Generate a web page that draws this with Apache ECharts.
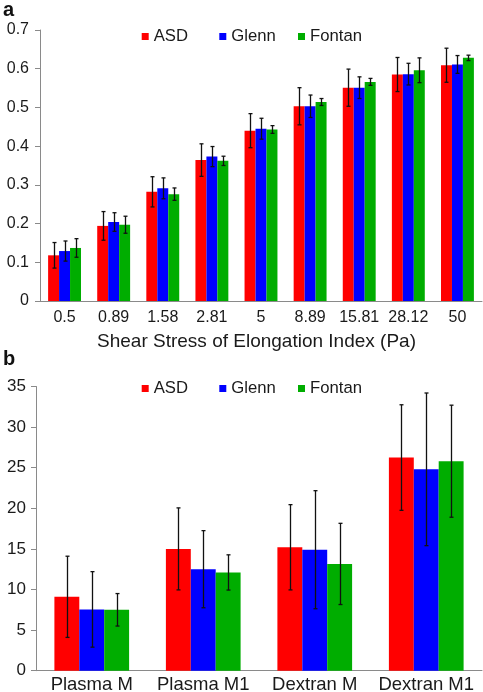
<!DOCTYPE html>
<html>
<head>
<meta charset="utf-8">
<script src="https://cdn.jsdelivr.net/npm/echarts@6/dist/echarts.min.js"></script>
<style>html,body{margin:0;padding:0;background:#fff}#c{width:483px;height:692px}</style>
</head>
<body>
<div id="c"></div>
<script>
// Panel a data
const categoriesA = ['0.5','0.89','1.58','2.81','5','8.89','15.81','28.12','50'];
const asdA    = [0.118,0.194,0.282,0.364,0.440,0.503,0.551,0.585,0.609];
const glennA  = [0.129,0.204,0.291,0.373,0.445,0.503,0.551,0.586,0.611];
const fontanA = [0.137,0.197,0.276,0.362,0.443,0.514,0.566,0.596,0.628];
const asdErrA    = [0.033,0.037,0.039,0.042,0.044,0.048,0.048,0.044,0.044];
const glennErrA  = [0.026,0.024,0.027,0.026,0.027,0.029,0.028,0.028,0.023];
const fontanErrA = [0.024,0.022,0.016,0.012,0.010,0.009,0.009,0.032,0.007];
// Panel b data
const categoriesB = ['Plasma M','Plasma M1','Dextran M','Dextran M1'];
const asdB    = [9.1,15.0,15.2,26.25];
const glennB  = [7.55,12.5,14.9,24.8];
const fontanB = [7.5,12.1,13.15,25.8];
const asdErrB    = [5.0,5.05,5.25,6.5];
const glennErrB  = [4.65,4.75,7.27,9.4];
const fontanErrB = [2.0,2.17,5.0,6.9];

const seriesNames = ['ASD','Glenn','Fontan'];
const colors = ['#FF0000','#0000FF','#00AD00'];
const FONT = 'Liberation Sans, Arial, sans-serif';
const axisColor = '#8a8a8a';
const textColor = '#1a1a1a';

function errSeries(vals, errs, idx, axisIdx) {
  return {
    type: 'custom',
    xAxisIndex: axisIdx, yAxisIndex: axisIdx,
    z: 10, silent: true,
    data: vals.map((v, i) => [i, v, errs[i]]),
    renderItem: function (params, api) {
      const i = api.value(0), v = api.value(1), e = api.value(2);
      const c = api.coord([i, v]);
      const band = api.size([1, 0])[0];
      const bw = band * 0.67 / 3;
      const x = Math.round(c[0] + (idx - 1) * bw) + 0.5;
      const top = api.coord([i, v + e])[1];
      const bot = api.coord([i, v - e])[1];
      const st = { stroke: '#111', lineWidth: 1.3 };
      return { type: 'group', children: [
        { type: 'line', shape: { x1: x, y1: top, x2: x, y2: bot }, style: st },
        { type: 'line', shape: { x1: x - 2, y1: top, x2: x + 2, y2: top }, style: st },
        { type: 'line', shape: { x1: x - 2, y1: bot, x2: x + 2, y2: bot }, style: st }
      ]};
    }
  };
}

function barSeries(vals, idx, axisIdx) {
  return {
    type: 'bar', name: seriesNames[idx],
    xAxisIndex: axisIdx, yAxisIndex: axisIdx,
    data: vals, barGap: '0%', barCategoryGap: '33%',
    itemStyle: { color: colors[idx] }
  };
}

const legendLefts = [136.7, 214.3, 293];
function legends(top) {
  return seriesNames.map((n, k) => ({
    data: [n], icon: 'rect', itemWidth: 7, itemHeight: 7,
    left: legendLefts[k], top: top, selectedMode: false,
    textStyle: { fontFamily: FONT, fontSize: 16.7, color: textColor }
  }));
}

const chart = echarts.init(document.getElementById('c'), null, { renderer: 'canvas' });
chart.setOption({
  animation: false,
  backgroundColor: '#fff',
  textStyle: { fontFamily: FONT },
  graphic: [
    { type: 'text', left: 3, top: 0, style: { text: 'a', font: 'bold 20px ' + FONT, fill: '#111' } },
    { type: 'text', left: 3, top: 349, style: { text: 'b', font: 'bold 20px ' + FONT, fill: '#111' } }
  ],
  legend: legends(23).concat(legends(375)),
  grid: [
    { left: 40, top: 30, width: 442, height: 271, outerBoundsMode: 'none', containLabel: false },
    { left: 36, top: 386.5, width: 446, height: 284.2, outerBoundsMode: 'none', containLabel: false }
  ],
  xAxis: [
    { type: 'category', gridIndex: 0, data: categoriesA,
      name: 'Shear Stress of Elongation Index (Pa)', nameLocation: 'middle', nameGap: 31,
      nameTextStyle: { fontFamily: FONT, fontSize: 19, color: textColor, padding: [0, 9, 0, 0] },
      axisLine: { lineStyle: { color: axisColor, width: 1 } },
      axisTick: { length: 5, lineStyle: { color: axisColor } },
      axisLabel: { fontFamily: FONT, fontSize: 16, color: textColor, margin: 9, interval: 0 } },
    { type: 'category', gridIndex: 1, data: categoriesB,
      axisLine: { lineStyle: { color: axisColor, width: 1 } },
      axisTick: { length: 5, lineStyle: { color: axisColor } },
      axisLabel: { fontFamily: FONT, fontSize: 18.5, color: textColor, margin: 5, interval: 0 } }
  ],
  yAxis: [
    { type: 'value', gridIndex: 0, min: 0, max: 0.7, interval: 0.1,
      splitLine: { show: false },
      axisLine: { show: true, lineStyle: { color: axisColor, width: 1 } },
      axisTick: { show: true, length: 5, lineStyle: { color: axisColor } },
      axisLabel: { fontFamily: FONT, fontSize: 16, color: textColor, margin: 11 } },
    { type: 'value', gridIndex: 1, min: 0, max: 35, interval: 5,
      splitLine: { show: false },
      axisLine: { show: true, lineStyle: { color: axisColor, width: 1 } },
      axisTick: { show: true, length: 5, lineStyle: { color: axisColor } },
      axisLabel: { fontFamily: FONT, fontSize: 17, color: textColor, margin: 10 } }
  ],
  series: [
    barSeries(asdA, 0, 0), barSeries(glennA, 1, 0), barSeries(fontanA, 2, 0),
    errSeries(asdA, asdErrA, 0, 0), errSeries(glennA, glennErrA, 1, 0), errSeries(fontanA, fontanErrA, 2, 0),
    barSeries(asdB, 0, 1), barSeries(glennB, 1, 1), barSeries(fontanB, 2, 1),
    errSeries(asdB, asdErrB, 0, 1), errSeries(glennB, glennErrB, 1, 1), errSeries(fontanB, fontanErrB, 2, 1)
  ]
});
</script>
</body>
</html>
